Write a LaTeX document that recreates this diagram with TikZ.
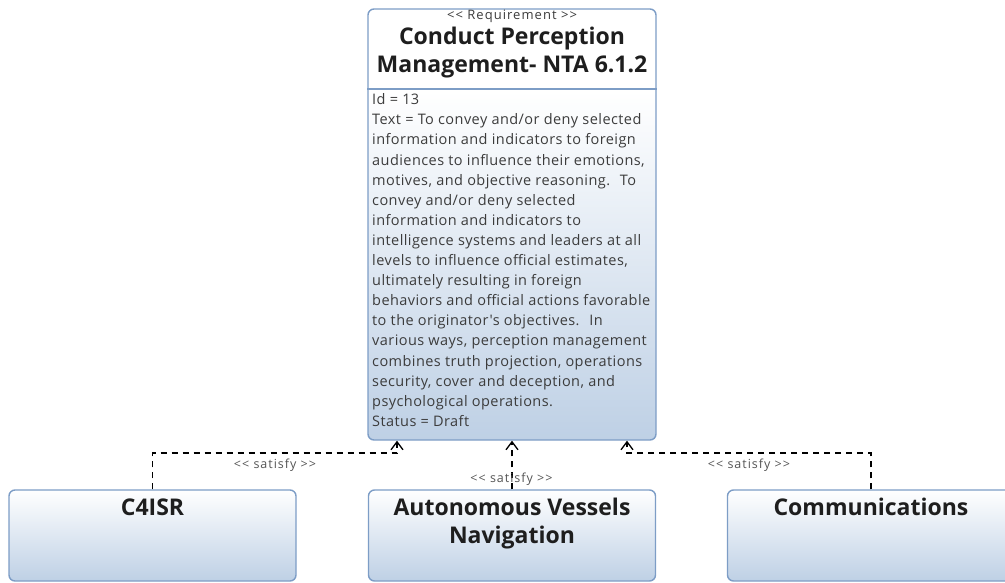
\documentclass[tikz,border=0pt]{standalone}
\usepackage{fontspec}
\setmainfont{Open Sans}[Ligatures=TeXOff]
\newfontfamily\bodyfont{Open Sans}[Ligatures=TeXOff, LetterSpace=3]
\newfontfamily\smallfont{Open Sans}[Ligatures=TeXOff, LetterSpace=8]
\usetikzlibrary{arrows.meta}
\definecolor{boxline}{RGB}{125,157,198}
\definecolor{boxblue}{RGB}{190,208,229}
\definecolor{titletext}{RGB}{30,30,30}
\definecolor{bodytext}{RGB}{60,60,60}
\definecolor{labeltext}{RGB}{85,85,85}
\pgfdeclareverticalshading{reqshade}{100bp}{color(0bp)=(boxblue); color(25bp)=(boxblue); color(65.5bp)=(white); color(100bp)=(white)}
\tikzset{
  reqbox/.style={draw=boxline, line width=1.4pt, rounded corners=6pt, shading=reqshade, inner sep=0pt},
  blockbox/.style={draw=boxline, line width=1.4pt, rounded corners=6pt, top color=white, bottom color=boxblue, inner sep=0pt, minimum width=287pt, minimum height=91pt},
  sat/.style={dash pattern=on 6pt off 5pt, line width=1.8pt, -{Straight Barb[length=8pt,width=12pt,line width=1.3pt]}},
  satlabel/.style={text=labeltext, font=\smallfont\fontsize{12.5}{14}\selectfont, inner sep=0pt},
  titlefont/.style={text=titletext, font=\fontsize{23}{29}\selectfont\bfseries, inner sep=0pt, anchor=base},
  blocktitle/.style={text=titletext, font=\fontsize{23}{28}\selectfont\bfseries, inner sep=0pt, anchor=base}
}
\begin{document}
\begin{tikzpicture}[x=1pt, y=-1pt]
\useasboundingbox (0,0) rectangle (1005,582);
\clip (0,0) rectangle (1005,582);
% requirement block
\node[reqbox, minimum width=288pt, minimum height=431pt] (req) at (512,224.5) {};
\draw[boxline, line width=1.4pt] (req.west |- 0,89) -- (req.east |- 0,89);
\node[text=bodytext, font=\smallfont\fontsize{13}{15}\selectfont, inner sep=0pt, anchor=base] (st) at (512,19) {<< Requirement >>};
\node[titlefont] (t1) at (512,44) {Conduct Perception};
\node[titlefont] (t2) at (512,72) {Management- NTA 6.1.2};
\node[text=bodytext, font=\bodyfont\fontsize{14.5}{20.1}\selectfont, align=left, anchor=north west, inner sep=0pt] (body) at (372,93.5) {Id = 13\\
Text = To convey and/or deny selected\\
information and indicators to foreign\\
audiences to influence their emotions,\\
motives, and objective reasoning.~ To\\
convey and/or deny selected\\
information and indicators to\\
intelligence systems and leaders at all\\
levels to influence official estimates,\\
ultimately resulting in foreign\\
behaviors and official actions favorable\\
to the originator's objectives.~ In\\
various ways, perception management\\
combines truth projection, operations\\
security, cover and deception, and\\
psychological operations.\\
Status = Draft};
% satisfying blocks
\node[blockbox] (c4) at (152.5,535.5) {};
\node[blockbox] (auto) at (512,535.5) {};
\node[blockbox] (comm) at (871,535.5) {};
\node[blocktitle] (c4t) at (152.5,515) {C4ISR};
\node[blocktitle] (a1) at (512,515) {Autonomous Vessels};
\node[blocktitle] (a2) at (512,543) {Navigation};
\node[blocktitle] (cmt) at (871,515) {Communications};
% satisfy connectors
\draw[sat] (c4.north) -- ++(0,-36) -| ([xshift=-115pt]req.south);
\draw[sat] (auto.north) -- (req.south);
\draw[sat] (comm.north) -- ++(0,-36) -| ([xshift=115pt]req.south);
\node[satlabel] (l1) at (275,465) {<< satisfy >>};
\node[satlabel] (l2) at (511.5,479) {<< satisfy >>};
\node[satlabel] (l3) at (749,465) {<< satisfy >>};
\end{tikzpicture}
\end{document}
